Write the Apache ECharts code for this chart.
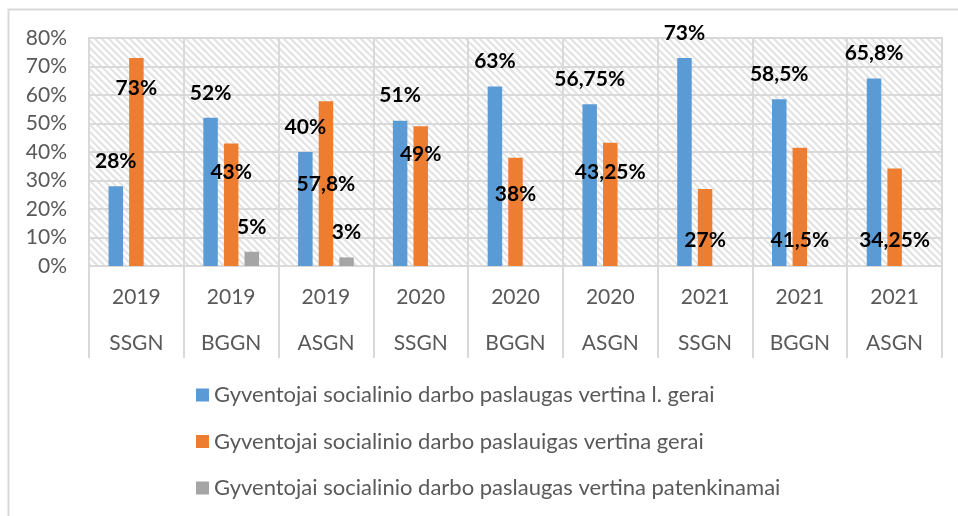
<!DOCTYPE html>
<html>
<head>
<meta charset="utf-8">
<script src="https://cdn.jsdelivr.net/npm/echarts@6/dist/echarts.min.js"></script>
<style>
  html, body { margin: 0; padding: 0; background: #fff; }
  #chart { width: 958px; height: 516px; }
</style>
</head>
<body>
<div id="chart"></div>
<script>
  // categories (two-level axis: year / group)
  const years = ['2019', '2019', '2019', '2020', '2020', '2020', '2021', '2021', '2021'];
  const groups = ['SSGN', 'BGGN', 'ASGN', 'SSGN', 'BGGN', 'ASGN', 'SSGN', 'BGGN', 'ASGN'];

  // series values, %
  const labaiGerai = [28, 52, 40, 51, 63, 56.75, 73, 58.5, 65.8];
  const gerai = [73, 43, 57.8, 49, 38, 43.25, 27, 41.5, 34.25];
  const patenkinamai = [null, 5, 3, null, null, null, null, null, null];

  const seriesNames = [
    'Gyventojai socialinio darbo paslaugas vertina l. gerai',
    'Gyventojai socialinio darbo paslauigas vertina gerai',
    'Gyventojai socialinio darbo paslaugas vertina patenkinamai',
  ];

  // y axis ticks
  const yMin = 0, yMax = 80, yStep = 10;

  // orange labels were moved by hand in the original, px down from the default spot
  const geraiLabelShift = [55, 54, 108, 53, 62, 54, 76, 118, 97];

  // hatched plot background
  const hatch = document.createElement('canvas');
  hatch.width = 7; hatch.height = 7;
  const hctx = hatch.getContext('2d');
  hctx.fillStyle = '#ffffff';
  hctx.fillRect(0, 0, 7, 7);
  hctx.strokeStyle = '#e2e2e2';
  hctx.lineWidth = 2;
  hctx.beginPath();
  hctx.moveTo(-7, -7); hctx.lineTo(14, 14);
  hctx.moveTo(-7, 0); hctx.lineTo(7, 14);
  hctx.moveTo(0, -7); hctx.lineTo(14, 7);
  hctx.stroke();

  const fmt = (v) => String(v).replace('.', ',') + '%';

  const labelStyle = {
    show: true,
    position: 'top',
    distance: 16,
    color: '#000',
    fontWeight: 'bold',
    fontSize: 21,
    lineHeight: 18,
    fontFamily: 'Lato',
    formatter: (p) => fmt(p.value),
  };

  const chart = echarts.init(document.getElementById('chart'));
  chart.setOption({
    animation: false,
    textStyle: { fontFamily: 'Lato' },
    graphic: [{
      type: 'rect',
      shape: { x: 8.5, y: 9.5, width: 980, height: 540 },
      style: { fill: 'none', stroke: '#d9d9d9', lineWidth: 2 },
      silent: true,
    }],
    grid: {
      left: 89, right: 16, top: 38, bottom: 250,
      show: true,
      backgroundColor: { image: hatch, repeat: 'repeat' },
      borderColor: '#d9d9d9',
      borderWidth: 2,
    },
    legend: {
      orient: 'vertical',
      left: 196,
      top: 384,
      padding: 0,
      icon: 'rect',
      itemWidth: 13,
      itemHeight: 13,
      itemGap: 24.5,
      itemTextGap: 7,
      data: seriesNames,
      textStyle: { fontSize: 22, lineHeight: 22, color: '#595959', fontFamily: 'Lato' },
    },
    xAxis: {
      type: 'category',
      data: years.map((y, i) => y + '\n' + groups[i]),
      axisLine: { lineStyle: { color: '#d9d9d9', width: 2 } },
      axisTick: { show: true, interval: 0, length: 92, lineStyle: { color: '#d9d9d9', width: 2 } },
      axisLabel: { interval: 0, margin: 8, lineHeight: 46, fontSize: 21, color: '#595959', fontFamily: 'Lato' },
      splitLine: { show: true, interval: 0, lineStyle: { color: '#d9d9d9', width: 2 } },
    },
    yAxis: {
      type: 'value',
      min: yMin, max: yMax, interval: yStep,
      axisLine: { show: false },
      axisTick: { show: false },
      axisLabel: { margin: 22, fontSize: 21, color: '#595959', fontFamily: 'Lato', formatter: '{value}%' },
      splitLine: { lineStyle: { color: '#d9d9d9', width: 2 } },
    },
    series: [
      {
        name: seriesNames[0],
        type: 'bar',
        data: labaiGerai,
        barWidth: 14.5,
        barGap: '42%',
        itemStyle: { color: '#5B9BD5' },
        label: labelStyle,
      },
      {
        name: seriesNames[1],
        type: 'bar',
        data: gerai.map((v, i) => ({ value: v, label: { offset: [0, geraiLabelShift[i]] } })),
        barWidth: 14.5,
        barGap: '42%',
        itemStyle: { color: '#ED7D31' },
        label: labelStyle,
      },
      {
        name: seriesNames[2],
        type: 'bar',
        data: patenkinamai,
        barWidth: 14.5,
        barGap: '42%',
        itemStyle: { color: '#A5A5A5' },
        label: labelStyle,
      },
    ],
  });
</script>
</body>
</html>
